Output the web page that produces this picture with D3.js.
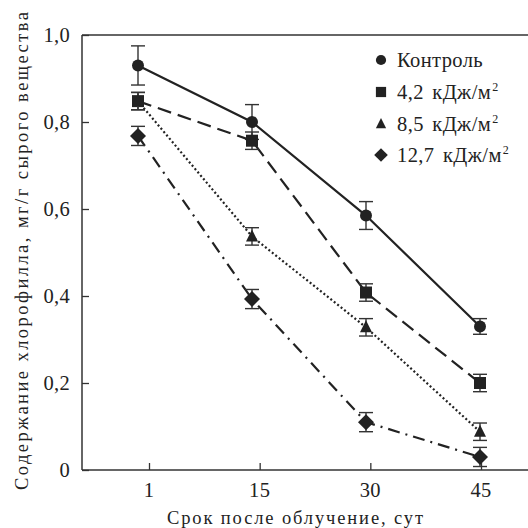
<!DOCTYPE html>
<html>
<head>
<meta charset="utf-8">
<script src="https://cdn.jsdelivr.net/npm/d3@7"></script>
<style>
	body { margin: 0; background: #fff; }
	svg text { font-family: "Liberation Serif", "DejaVu Serif", serif; fill: #222; }
</style>
</head>
<body>
<svg id="chart" width="528" height="528"></svg>
<script>
	// Days after irradiation (categories) and chlorophyll content, mg/g fresh weight
	var days = ['1', '15', '30', '45'];
	var control = [0.93, 0.80, 0.585, 0.33];
	var control_err = [0.045, 0.04, 0.032, 0.018];
	var dose42 = [0.848, 0.757, 0.408, 0.20];
	var dose42_err = [0.02, 0.02, 0.02, 0.02];
	var dose85 = [0.848, 0.537, 0.328, 0.088];
	var dose85_err = [0.02, 0.02, 0.02, 0.02];
	var dose127 = [0.768, 0.393, 0.11, 0.03];
	var dose127_err = [0.022, 0.022, 0.022, 0.022];
	var yTicks = [0, 0.2, 0.4, 0.6, 0.8, 1.0];

(function () {
	var series = [
		{ name: 'Контроль', sup: false, values: control, err: control_err, marker: 'circle', dash: null },
		{ name: '4,2 кДж/м', sup: true, values: dose42, err: dose42_err, marker: 'square', dash: '14,7' },
		{ name: '8,5 кДж/м', sup: true, values: dose85, err: dose85_err, marker: 'triangle', dash: '2,2.4' },
		{ name: '12,7 кДж/м', sup: true, values: dose127, err: dose127_err, marker: 'diamond', dash: '12,6,2,6' }
	];

	var svg = d3.select('#chart');
	var pLeft = 82, pTop = 35, pBottom = 470, pRight = 528;
	var ink = '#222';

	var x = d3.scalePoint().domain(days).range([138, 480]);     // markers
	var xTick = d3.scalePoint().domain(days).range([149, 481]); // axis ticks (offset in the original)
	var y = d3.scaleLinear().domain([0, 1]).range([pBottom, pTop]);

	function fmt(d) { return d === 0 ? '0' : d.toFixed(1).replace('.', ','); }

	// frame: left, bottom, top
	var frame = svg.append('g').attr('stroke', '#333').attr('stroke-width', 1.5).attr('fill', 'none');
	frame.append('line').attr('x1', pLeft).attr('x2', pLeft).attr('y1', pTop).attr('y2', pBottom);
	frame.append('line').attr('x1', pLeft).attr('x2', pRight).attr('y1', pBottom).attr('y2', pBottom);
	frame.append('line').attr('x1', pLeft).attr('x2', pRight).attr('y1', pTop).attr('y2', pTop);

	// y axis (inward ticks)
	var gy = svg.append('g').attr('transform', 'translate(' + pLeft + ',0)')
		.call(d3.axisRight(y).tickValues(yTicks).tickSize(7).tickFormat(''));
	gy.select('.domain').remove();
	gy.selectAll('line').attr('stroke', '#333').attr('stroke-width', 1.3);
	svg.append('g').selectAll('text').data(yTicks).join('text')
		.attr('x', 70).attr('y', function (d) { return y(d); }).attr('dy', '0.35em')
		.attr('text-anchor', 'end').attr('font-size', 20.5).attr('letter-spacing', 0.3).text(fmt);

	// x axis (inward ticks)
	var gx = svg.append('g').attr('transform', 'translate(0,' + pBottom + ')')
		.call(d3.axisTop(xTick).tickSize(7).tickFormat(''));
	gx.select('.domain').remove();
	gx.selectAll('line').attr('stroke', '#333').attr('stroke-width', 1.3);
	svg.append('g').selectAll('text').data(days).join('text')
		.attr('x', function (d) { return xTick(d); }).attr('y', 497)
		.attr('text-anchor', 'middle').attr('font-size', 20.5).attr('letter-spacing', 0.3)
		.text(function (d) { return d; });

	// axis titles
	svg.append('text').attr('x', 167).attr('y', 524)
		.attr('font-size', 18.5).attr('textLength', 256).attr('lengthAdjust', 'spacing')
		.text('Срок после облучение, сут');
	svg.append('text').attr('transform', 'translate(28,490) rotate(-90)')
		.attr('font-size', 18.5).attr('textLength', 478).attr('lengthAdjust', 'spacing')
		.text('Содержание хлорофилла, мг/г сырого вещества');

	// marker shapes
	function drawMarker(g, type, cx, cy, s) {
		s = s || 1;
		if (type === 'circle') g.append('circle').attr('cx', cx).attr('cy', cy).attr('r', 6 * s);
		else if (type === 'square') g.append('rect').attr('x', cx - 6 * s).attr('y', cy - 6 * s).attr('width', 12 * s).attr('height', 12 * s);
		else if (type === 'triangle') g.append('path').attr('d', 'M' + cx + ',' + (cy - 7 * s) + 'L' + (cx + 6 * s) + ',' + (cy + 5 * s) + 'L' + (cx - 6 * s) + ',' + (cy + 5 * s) + 'Z');
		else g.append('path').attr('d', 'M' + cx + ',' + (cy - 8 * s) + 'L' + (cx + 8 * s) + ',' + cy + 'L' + cx + ',' + (cy + 8 * s) + 'L' + (cx - 8 * s) + ',' + cy + 'Z');
	}

	var line = d3.line().x(function (d, i) { return x(days[i]); }).y(function (d) { return y(d); });

	series.forEach(function (s) {
		var g = svg.append('g');
		g.append('path').attr('d', line(s.values)).attr('fill', 'none').attr('stroke', ink)
			.attr('stroke-width', 2.2).attr('stroke-dasharray', s.dash);
		// error bars
		s.values.forEach(function (v, i) {
			var cx = x(days[i]), e = s.err[i];
			var eb = g.append('g').attr('stroke', '#333').attr('stroke-width', 1.4);
			eb.append('line').attr('x1', cx).attr('x2', cx).attr('y1', y(v - e)).attr('y2', y(v + e));
			eb.append('line').attr('x1', cx - 7).attr('x2', cx + 7).attr('y1', y(v - e)).attr('y2', y(v - e));
			eb.append('line').attr('x1', cx - 7).attr('x2', cx + 7).attr('y1', y(v + e)).attr('y2', y(v + e));
		});
		var mg = g.append('g').attr('fill', ink);
		s.values.forEach(function (v, i) { drawMarker(mg, s.marker, x(days[i]), y(v)); });
	});

	// legend
	var lg = svg.append('g');
	var legendRows = [60, 92, 124, 155];
	series.forEach(function (s, i) {
		var ly = legendRows[i];
		drawMarker(lg.append('g').attr('fill', ink), s.marker, 381, ly, 0.85);
		var t = lg.append('text').attr('x', 397).attr('y', ly).attr('dy', '0.35em')
			.attr('font-size', 20.5).attr('letter-spacing', 0.4).attr('word-spacing', 3);
		t.append('tspan').text(s.name);
		if (s.sup) t.append('tspan').attr('dy', '-0.7em').attr('dx', 1).attr('font-size', 12).text('2');
	});
})();
</script>
</body>
</html>
